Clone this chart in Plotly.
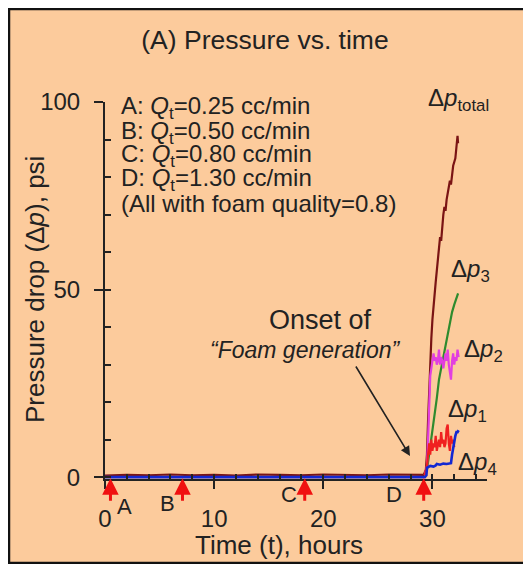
import plotly.graph_objects as go

# ---------------- data ----------------
t_base = [0, 2, 4, 6, 8, 10, 12, 14, 16, 18, 20, 22, 24, 26, 28, 29.2]
total_base = [0.4, 0.6, 0.5, 0.7, 0.5, 0.6, 0.4, 0.7, 0.6, 0.5, 0.7, 0.6, 0.5, 0.7, 0.6, 0.6]

t_total = [29.4, 29.5, 29.6, 29.7, 29.8, 29.9, 30.0, 30.1, 30.2, 30.3, 30.4, 30.5, 30.6, 30.7,
           30.8, 30.9, 31.0, 31.1, 31.2, 31.3, 31.4, 31.5, 31.6, 31.7, 31.8, 31.9, 32.0, 32.1,
           32.2, 32.3, 32.35]
total_vals = [2, 6, 15, 24, 31, 37, 42, 46, 49, 52, 55, 58, 60, 64, 63, 68, 70, 72, 71, 74,
              76, 77, 79, 78, 81, 83, 84, 85, 88, 91, 89]

t_p3 = [29.3, 29.5, 29.6, 29.8, 30.0, 30.2, 30.4, 30.6, 30.8, 31.0, 31.2, 31.4, 31.6, 31.8,
        32.0, 32.2, 32.35]
p3_vals = [0.5, 2, 4, 8, 12, 17, 21, 26, 29, 33, 36, 39, 42, 44, 46, 48, 49]

t_p2 = [29.3, 29.5, 29.6, 29.7, 29.8, 29.9, 30.0, 30.1, 30.2, 30.3, 30.4, 30.5, 30.6, 30.7,
        30.8, 30.9, 31.0, 31.1, 31.2, 31.3, 31.4, 31.5, 31.6, 31.7, 31.8, 31.9, 32.0, 32.1,
        32.2, 32.3, 32.4]
p2_vals = [0.5, 3, 10, 20, 27, 29, 31, 33, 31, 32, 30, 31, 34, 30, 32, 31, 29, 32, 33, 31,
           34, 30, 27, 26, 31, 33, 30, 32, 31, 34, 32]

t_p1 = [29.3, 29.5, 29.6, 29.7, 29.8, 29.9, 30.0, 30.1, 30.2, 30.3, 30.4, 30.5, 30.6, 30.7,
        30.8, 30.9, 31.0, 31.1, 31.2, 31.3, 31.4, 31.5, 31.6, 31.7, 31.8, 31.9, 32.0]
p1_vals = [0.5, 3, 6, 9, 6, 10, 7, 9, 8, 11, 7, 9, 10, 8, 12, 9, 10, 8, 9, 13, 14, 9, 7,
           11, 9, 10, 8]

t_p4 = [0, 29.3, 29.45, 29.5, 29.8, 30.1, 30.3, 30.4, 30.7, 31.0, 31.3, 31.6, 31.7, 31.8,
        31.9, 32.0, 32.1, 32.2, 32.3, 32.4]
p4_vals = [0, 0, 0.5, 2.5, 3, 2.8, 3.1, 3.5, 3.3, 3.6, 3.5, 3.6, 3.7, 6, 8, 10, 11, 12, 12, 12.5]

arrow_t = [0.5, 7.1, 18.3, 29.2]
arrow_labels = ["A", "B", "C", "D"]

box_lines = [
    "A: <i>Q</i><sub>t</sub>=0.25 cc/min",
    "B: <i>Q</i><sub>t</sub>=0.50 cc/min",
    "C: <i>Q</i><sub>t</sub>=0.80 cc/min",
    "D: <i>Q</i><sub>t</sub>=1.30 cc/min",
    "(All with foam quality=0.8)",
]

series_labels = ["Δ<i>p</i><sub>total</sub>", "Δ<i>p</i><sub>3</sub>", "Δ<i>p</i><sub>2</sub>",
                 "Δ<i>p</i><sub>1</sub>", "Δ<i>p</i><sub>4</sub>"]

x_ticks = [0, 10, 20, 30]
y_ticks = [0, 50, 100]

# ---------------- layout / styling ----------------
PEACH = "#FCCB9C"
INK = "#222222"
FONT = "Liberation Sans, Arial, sans-serif"
C_TOTAL = "#7A1414"
C_P3 = "#2E8B2E"
C_P2 = "#E23FE0"
C_P1 = "#F02020"
C_P4 = "#1428D2"

OFF = 8  # page body margin
W, H = 520, 556
L, R, T, B = 97, 41, 94, 85
pw, ph = W - L - R, H - T - B


def pxp(xpage):
    """page pixel x -> paper coordinate"""
    return (xpage - OFF - L) / pw


def pyp(ypage):
    """page pixel y -> paper coordinate"""
    return (H - B - (ypage - OFF)) / ph


# label positions (page pixels, centers)
arrow_label_pos = [(124, 506), (167, 503), (289, 494), (394, 494)]
box_x = 119
box_ys = [108, 132, 155, 179, 203]
series_label_pos = [(458, 100), (470, 270), (483, 350), (467, 410), (477, 463)]

fig = go.Figure()
fig.add_trace(go.Scatter(x=t_base + t_total, y=total_base + total_vals, mode="lines",
                         line=dict(color=C_TOTAL, width=2.2), hoverinfo="skip", showlegend=False))
fig.add_trace(go.Scatter(x=t_p3, y=p3_vals, mode="lines",
                         line=dict(color=C_P3, width=2.2), hoverinfo="skip", showlegend=False))
fig.add_trace(go.Scatter(x=t_p2, y=p2_vals, mode="lines",
                         line=dict(color=C_P2, width=2.2), hoverinfo="skip", showlegend=False))
fig.add_trace(go.Scatter(x=t_p1, y=p1_vals, mode="lines",
                         line=dict(color=C_P1, width=2.2), hoverinfo="skip", showlegend=False))
fig.add_trace(go.Scatter(x=t_p4, y=p4_vals, mode="lines",
                         line=dict(color=C_P4, width=2.6), hoverinfo="skip", showlegend=False))
fig.add_trace(go.Scatter(x=[0], y=[0], xaxis="x2", yaxis="y2", mode="markers",
                         marker=dict(opacity=0), hoverinfo="skip", showlegend=False))

fig.update_layout(
    width=W, height=H,
    margin=dict(l=L, r=R, t=T, b=B),
    paper_bgcolor=PEACH,
    plot_bgcolor="rgba(0,0,0,0)",
    font=dict(family=FONT, color=INK),
    title=dict(text="(A) Pressure vs. time", x=(265 - OFF) / W, xref="container",
               xanchor="center", y=1 - (40 - OFF) / H, yref="container", yanchor="middle",
               font=dict(size=26.5, family=FONT, color=INK)),
    xaxis=dict(range=[0, 35], tickvals=x_ticks, ticks="outside", ticklen=8, tickwidth=2,
               tickcolor=INK, showline=True, linecolor=INK, linewidth=2,
               showgrid=False, zeroline=False, tickfont=dict(size=24, family=FONT, color=INK),
               ticklabelstandoff=9),
    yaxis=dict(range=[-0.5, 100], tickvals=y_ticks, ticks="outside", ticklen=9, tickwidth=2,
               tickcolor=INK, showline=True, linecolor=INK, linewidth=2,
               showgrid=False, zeroline=False, tickfont=dict(size=24, family=FONT, color=INK),
               ticklabelstandoff=9),
    xaxis2=dict(range=[0, 35], overlaying="x", anchor="y", side="bottom", dtick=2, tick0=0,
                ticks="inside", ticklen=5, tickwidth=1.5, tickcolor=INK,
                showticklabels=False, showgrid=False, zeroline=False, showline=False),
    yaxis2=dict(range=[-0.5, 100], overlaying="y", anchor="x", side="left", dtick=10, tick0=0,
                ticks="inside", ticklen=6, tickwidth=1.5, tickcolor=INK,
                showticklabels=False, showgrid=False, zeroline=False, showline=False),
)

# frame around the whole panel
fig.add_shape(type="rect", xref="paper", yref="paper",
              x0=pxp(OFF + 1), x1=pxp(OFF + W - 1), y0=pyp(OFF + H - 1), y1=pyp(OFF + 1),
              fillcolor="rgba(0,0,0,0)", line=dict(color="#111111", width=2.5), layer="below")


def note(xpage, ypage, text, size, xanchor="center", **kw):
    fig.add_annotation(x=pxp(xpage), y=pyp(ypage), xref="paper", yref="paper", text=text,
                       showarrow=False, xanchor=xanchor, yanchor="middle",
                       font=dict(size=size, family=FONT, color=INK), **kw)


# red arrows A-D
for ta in arrow_t:
    fig.add_annotation(x=ta, y=-0.3, xref="x", yref="y", ax=0, ay=24, text="",
                       showarrow=True, arrowhead=2, arrowsize=1.1, arrowwidth=3,
                       arrowcolor="#F01010")
for (lx, ly), lab in zip(arrow_label_pos, arrow_labels):
    note(lx, ly, lab, 22)

# axis titles
note(279, 545, "Time (t), hours", 26)
note(35, 290, "Pressure drop (Δ<i>p</i>), psi", 26, textangle=-90)

# condition box
for line, yy in zip(box_lines, box_ys):
    note(box_x, yy, line, 24, xanchor="left")

# onset annotation
note(320, 320, "Onset of", 27)
note(305, 350, "<i>“Foam generation”</i>", 23)
fig.add_annotation(x=pxp(410), y=pyp(456), ax=355 - 410, ay=365 - 456,
                   xref="paper", yref="paper", axref="pixel", ayref="pixel",
                   text="", showarrow=True, arrowhead=2, arrowsize=1.2, arrowwidth=1.6,
                   arrowcolor=INK)

# series labels
for lab, (lx, ly) in zip(series_labels, series_label_pos):
    note(lx, ly, lab, 24)

fig.write_html("out.html")
